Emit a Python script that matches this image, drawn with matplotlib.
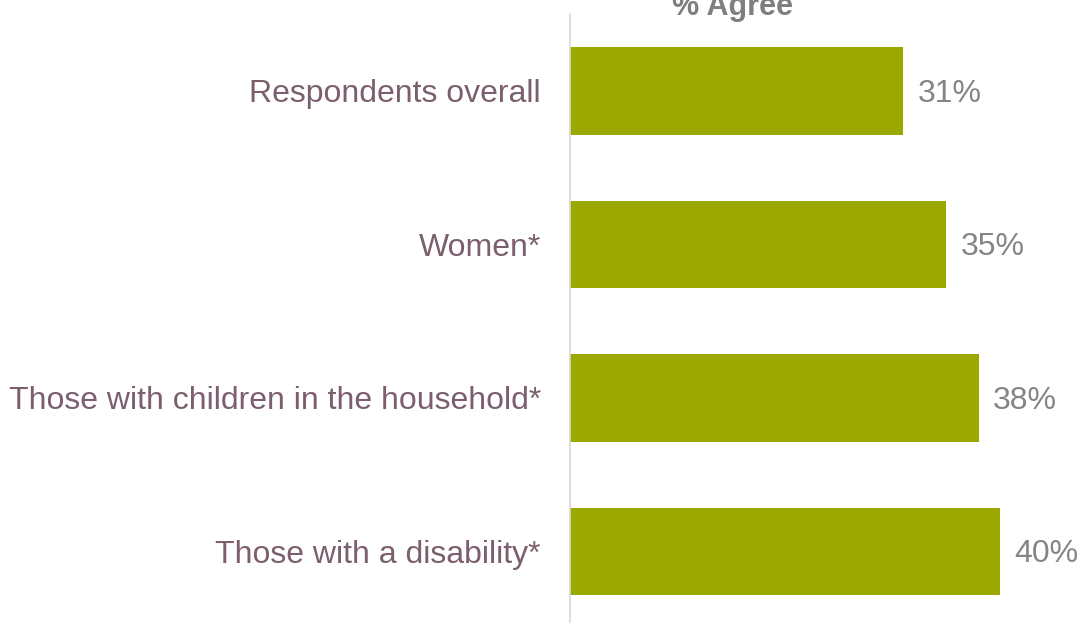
import matplotlib
matplotlib.use("Agg")
import matplotlib.pyplot as plt

categories = ["Respondents overall", "Women*", "Those with children in the household*", "Those with a disability*"]
values = [31, 35, 38, 40]

plt.rcParams["font.family"] = ["Liberation Sans", "DejaVu Sans"]

bar_c = "#9BA800"
label_c = "#7B5F6E"
value_c = "#858585"

fig = plt.figure(figsize=(10.82, 6.23), dpi=100)
W, H = 1082, 623
ax = fig.add_axes([570 / W, 0, (W - 570) / W, (H - 14) / H])

y = list(range(len(categories)))
ax.barh(y, values, height=0.57, color=bar_c)
ax.set_xlim(0, (W - 570) / 10.75)
ax.set_ylim(3.467, -0.5)

for yi, v in zip(y, values):
    ax.text(v + 1.35, yi + 0.02, f"{v}%", va="center", ha="left", fontsize=23, color=value_c)

ax.set_yticks(y)
ax.set_yticklabels(categories, fontsize=23, color=label_c)
ax.tick_params(axis="y", length=0, pad=21)
ax.set_xticks([])
for s in ["top", "right", "bottom"]:
    ax.spines[s].set_visible(False)
ax.spines["left"].set_color("#D9D9D9")
ax.spines["left"].set_linewidth(1.2)

fig.text(733 / W, 1 - 7 / H, "% Agree", ha="center", va="center", fontsize=22,
         fontweight="bold", color="#7F7F7F")

fig.savefig("out.png", dpi=100)
